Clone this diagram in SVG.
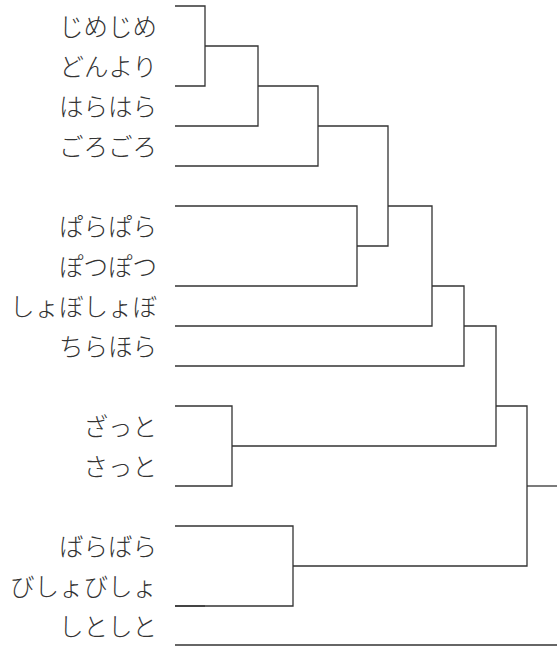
<svg xmlns="http://www.w3.org/2000/svg" width="557" height="646" viewBox="0 0 557 646">
<style>
.lbl{font-family:"Noto Sans CJK JP","Noto Sans CJK SC",sans-serif;font-size:24.5px;fill:#333;text-anchor:end;dominant-baseline:central;font-weight:200}
.ln{fill:none;stroke:#333;stroke-width:1.3}
</style>
<rect width="557" height="646" fill="#fff"/>
<g id="labels">
<g id="n1"><text class="lbl" x="157" y="25">じめじめ</text></g>
<g id="n2"><text class="lbl" x="157" y="65">どんより</text></g>
<g id="n3"><text class="lbl" x="157" y="105">はらはら</text></g>
<g id="n4"><text class="lbl" x="157" y="145">ごろごろ</text></g>
<g id="n5"><text class="lbl" x="157" y="225">ぱらぱら</text></g>
<g id="n6"><text class="lbl" x="157" y="265">ぽつぽつ</text></g>
<g id="n7"><text class="lbl" x="157" y="305">しょぼしょぼ</text></g>
<g id="n8"><text class="lbl" x="157" y="345">ちらほら</text></g>
<g id="n9"><text class="lbl" x="157" y="425">ざっと</text></g>
<g id="n10"><text class="lbl" x="157" y="465">さっと</text></g>
<g id="n11"><text class="lbl" x="157" y="545">ばらばら</text></g>
<g id="n12"><text class="lbl" x="157" y="585">びしょびしょ</text></g>
<g id="n13"><text class="lbl" x="157" y="625">しとしと</text></g>
</g>
<g id="connectors" class="ln">
<path d="M175 6H205V86H175"/>
<path d="M205 46H258V126H175"/>
<path d="M258 86H318V166H175"/>
<path d="M175 206H357V286H175"/>
<path d="M318 126H388V246H357"/>
<path d="M388 206H432V326H175"/>
<path d="M432 286H464V366H175"/>
<path d="M175 406H232V486H175"/>
<path d="M464 326H496V446H232"/>
<path d="M175 526H293V606H175"/>
<path d="M175 606H205"/>
<path d="M496 406H527V566H293"/>
<path d="M527 486H557"/>
<path d="M175 645H557"/>
</g>
</svg>
